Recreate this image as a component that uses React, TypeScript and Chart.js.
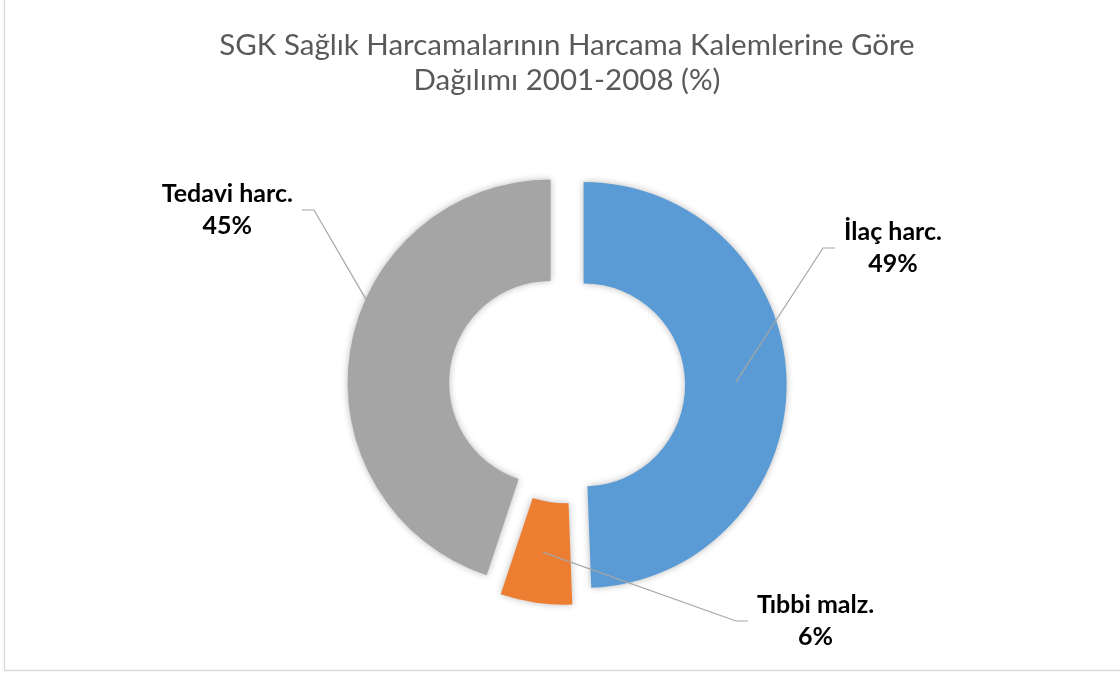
import { useEffect, useRef } from "react";
import { Chart, registerables } from "chart.js";

Chart.register(...registerables);

// ---- data ----
const TITLE_LINES = ["SGK Sağlık Harcamalarının Harcama Kalemlerine Göre", "Dağılımı 2001-2008 (%)"];
const CATEGORIES = ["İlaç harc.", "Tıbbi malz.", "Tedavi harc."];
const SHARES = [49.4, 5.7, 44.9];
const COLORS = ["#5B9BD5", "#ED7D31", "#A5A5A5"];

// ---- style / layout ----
const FONT = "Lato, 'Open Sans', sans-serif";
const TITLE_SIZE = 29.5;
const LABEL_SIZE = 25;
const LABEL_LINE = 32;
const EXPLODE = 16.6;
const ELBOW = 12;
const GAP = 9;
const LABEL_ANCHORS = [
  { x: 835, y: 248, side: "right", clipOuter: false },
  { x: 748, y: 621, side: "right", clipOuter: false },
  { x: 302, y: 210, side: "left", clipOuter: true },
];

const piePlugin = {
  id: "pieDecor",
  beforeDraw(chart: any) {
    const ctx = chart.ctx;
    ctx.save();
    ctx.fillStyle = "#FFFFFF";
    ctx.fillRect(0, 0, chart.width, chart.height);
    ctx.strokeStyle = "#D9D9D9";
    ctx.lineWidth = 1.3;
    ctx.beginPath();
    ctx.moveTo(4.5, 0);
    ctx.lineTo(4.5, 670.5);
    ctx.lineTo(chart.width, 670.5);
    ctx.stroke();
    ctx.restore();
  },
  afterDatasetUpdate(chart: any, args: any) {
    const meta = args.meta || chart.getDatasetMeta(args.index);
    meta.data.forEach((el: any) => {
      const mid = (el.startAngle + el.endAngle) / 2;
      el.x += Math.cos(mid) * EXPLODE;
      el.y += Math.sin(mid) * EXPLODE;
    });
  },
  beforeDatasetsDraw(chart: any) {
    const ctx = chart.ctx;
    ctx.save();
    ctx.shadowColor = "rgba(0,0,0,0.28)";
    ctx.shadowBlur = 7;
  },
  afterDatasetsDraw(chart: any) {
    const ctx = chart.ctx;
    ctx.restore();
    const meta = chart.getDatasetMeta(0);
    const total = SHARES.reduce((a, b) => a + b, 0);
    meta.data.forEach((el: any, i: number) => {
      const a = LABEL_ANCHORS[i];
      const mid = (el.startAngle + el.endAngle) / 2;
      const rMid = (el.innerRadius + el.outerRadius) / 2;
      let tx = el.x + Math.cos(mid) * rMid;
      let ty = el.y + Math.sin(mid) * rMid;
      const ex = a.x + (a.side === "right" ? -ELBOW : ELBOW);
      const ey = a.y;
      if (a.clipOuter) {
        const dx = tx - ex, dy = ty - ey;
        const fx = ex - el.x, fy = ey - el.y;
        const R = el.outerRadius;
        const A = dx * dx + dy * dy;
        const B = 2 * (fx * dx + fy * dy);
        const C = fx * fx + fy * fy - R * R;
        const disc = B * B - 4 * A * C;
        if (disc >= 0) {
          const t = (-B - Math.sqrt(disc)) / (2 * A);
          if (t > 0 && t < 1) {
            tx = ex + t * dx;
            ty = ey + t * dy;
          }
        }
      }
      ctx.save();
      ctx.strokeStyle = "#A6A6A6";
      ctx.lineWidth = 1.2;
      ctx.beginPath();
      ctx.moveTo(a.x, a.y);
      ctx.lineTo(ex, ey);
      ctx.lineTo(tx, ty);
      ctx.stroke();

      const lines = [CATEGORIES[i], Math.round((SHARES[i] / total) * 100) + "%"];
      ctx.font = `bold ${LABEL_SIZE}px ${FONT}`;
      const w = Math.max(...lines.map((l) => ctx.measureText(l).width));
      const cx = a.side === "right" ? a.x + GAP + w / 2 : a.x - GAP - w / 2;
      ctx.fillStyle = "#000000";
      ctx.textAlign = "center";
      ctx.textBaseline = "middle";
      ctx.fillText(lines[0], cx, a.y - LABEL_LINE / 2);
      ctx.fillText(lines[1], cx, a.y + LABEL_LINE / 2);
      ctx.restore();
    });
  },
};

export default function App() {
  const ref = useRef<HTMLCanvasElement | null>(null);
  useEffect(() => {
    if (!ref.current) return;
    const chart = new Chart(ref.current, {
      type: "doughnut",
      data: {
        labels: CATEGORIES,
        datasets: [
          {
            data: SHARES,
            backgroundColor: COLORS,
            borderWidth: 0,
            hoverOffset: 0,
          },
        ],
      },
      options: {
        responsive: false,
        animation: false,
        radius: 203,
        cutout: "50%",
        layout: { padding: { left: 14, right: 0, top: 0, bottom: 0 } },
        plugins: {
          legend: { display: false },
          tooltip: { enabled: false },
          title: {
            display: true,
            text: TITLE_LINES,
            color: "#595959",
            font: { family: FONT, size: TITLE_SIZE, weight: "normal", lineHeight: 35 / TITLE_SIZE },
            padding: { top: 27.5, bottom: 0 },
          },
        },
        events: [],
      } as any,
      plugins: [piePlugin],
    });
    return () => chart.destroy();
  }, []);
  return (
    <div style={{ position: "absolute", left: 0, top: 0, width: 1120, height: 673 }}>
      <canvas ref={ref} width={1120} height={673} />
    </div>
  );
}
